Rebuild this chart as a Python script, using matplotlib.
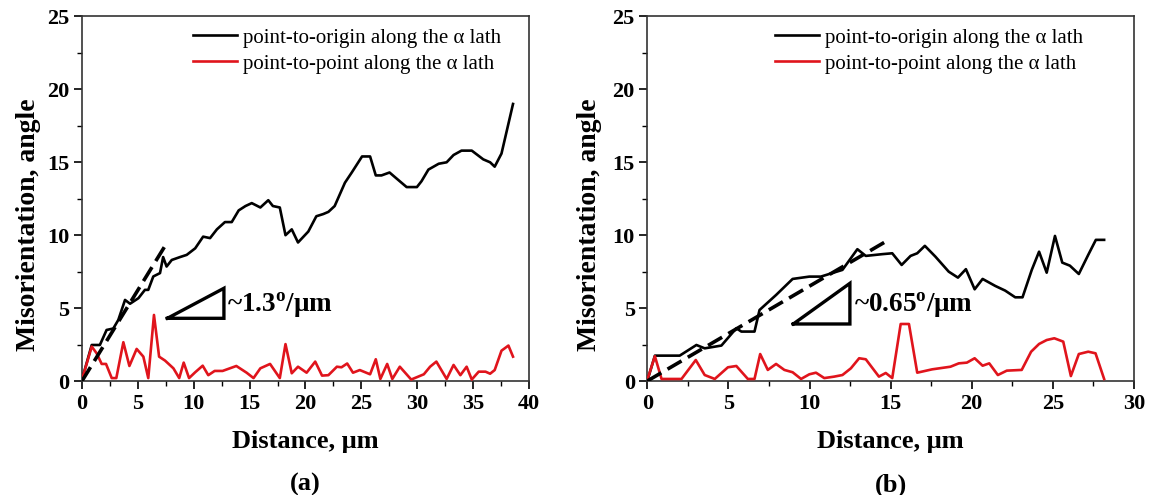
import numpy as np
import matplotlib
matplotlib.use("Agg")
import matplotlib.pyplot as plt
from matplotlib.ticker import MultipleLocator

plt.rcParams['font.family'] = ['Liberation Serif', 'DejaVu Serif']
plt.rcParams['mathtext.fontset'] = 'custom'
plt.rcParams['mathtext.rm'] = 'Liberation Serif'
plt.rcParams['mathtext.bf'] = 'Liberation Serif:bold'

# panel (a): point-to-origin misorientation
a_origin_x = [0, 0.87, 1.6, 2.2, 2.8, 3.25, 3.85, 4.3, 5.05, 5.63, 5.93, 6.38, 6.98, 7.26,
              7.57, 8.03, 8.77, 9.37, 10.13, 10.84, 11.46, 12.07, 12.79, 13.4, 14.02,
              14.63, 15.19, 15.45, 15.96, 16.67, 17.08, 17.7, 18.21, 18.77, 19.33, 20.25,
              20.97, 21.59, 22.05, 22.61, 23.53, 24.14, 25.06, 25.78, 26.29, 26.8, 27.52,
              28.13, 29.05, 29.97, 30.38, 31.0, 31.92, 32.63, 33.25, 33.96, 34.88, 35.91,
              36.52, 36.93, 37.54, 38.57]
a_origin_y = [0.1, 2.47, 2.47, 3.5, 3.6, 4.19, 5.56, 5.3, 5.68, 6.25, 6.25, 7.17, 7.4, 8.5,
              7.85, 8.3, 8.5, 8.65, 9.1, 9.9, 9.8, 10.4, 10.9, 10.9, 11.7, 12.0, 12.2, 12.1,
              11.9, 12.4, 12.0, 11.9, 10.0, 10.4, 9.5, 10.25, 11.3, 11.45, 11.6, 12.0, 13.6,
              14.3, 15.4, 15.4, 14.1, 14.1, 14.3, 13.9, 13.3, 13.3, 13.7, 14.5, 14.9, 15.0,
              15.5, 15.8, 15.8, 15.2, 15.0, 14.7, 15.6, 19.0]

# panel (a): point-to-point misorientation
a_point_x = [0, 0.87, 1.31, 1.76, 2.15, 2.66, 3.07, 3.7, 4.24, 4.89, 5.49, 5.93, 6.44, 6.9,
             7.43, 8.18, 8.7, 9.1, 9.58, 10.13, 10.8, 11.3, 11.87, 12.58, 13.81, 14.73,
             15.35, 15.96, 16.83, 17.7, 18.21, 18.77, 19.33, 20.1, 20.87, 21.48, 22.05,
             22.81, 23.22, 23.73, 24.25, 24.86, 25.78, 26.29, 26.7, 27.31, 27.77, 28.44,
             29.46, 30.59, 31.15, 31.71, 32.63, 33.25, 33.86, 34.42, 34.88, 35.5, 36.11,
             36.52, 36.93, 37.54, 38.16, 38.57]
a_point_y = [0.1, 2.36, 1.9, 1.17, 1.17, 0.2, 0.2, 2.66, 1.03, 2.2, 1.67, 0.2, 4.53, 1.67,
             1.4, 0.87, 0.2, 1.26, 0.2, 0.6, 1.05, 0.4, 0.69, 0.69, 1.03, 0.57, 0.2, 0.87,
             1.17, 0.2, 2.53, 0.53, 0.98, 0.57, 1.33, 0.37, 0.4, 0.98, 0.94, 1.2, 0.57, 0.75,
             0.46, 1.49, 0.14, 1.17, 0.14, 0.98, 0.1, 0.46, 0.98, 1.33, 0.14, 1.1, 0.4, 0.98,
             0.1, 0.64, 0.64, 0.5, 0.75, 2.08, 2.43, 1.67]

# panel (b): point-to-origin misorientation
b_origin_x = [0, 0.47, 2.0, 3.03, 3.54, 4.57, 5.49, 5.8, 6.61, 6.92, 7.94, 8.96, 9.99, 10.7,
              12.03, 12.95, 13.47, 14.49, 15.1, 15.68, 16.23, 16.64, 17.11, 17.76, 18.58,
              19.15, 19.64, 20.18, 20.67, 21.45, 22.06, 22.68, 23.13, 23.7, 24.15, 24.62,
              25.13, 25.58, 26.05, 26.6, 27.18, 27.65, 28.16]
b_origin_y = [0.0, 1.74, 1.74, 2.47, 2.24, 2.43, 3.62, 3.39, 3.39, 4.87, 5.9, 7.0, 7.16, 7.16,
              7.62, 9.04, 8.58, 8.7, 8.76, 7.96, 8.58, 8.76, 9.27, 8.53, 7.5, 7.09, 7.67,
              6.29, 7.0, 6.52, 6.2, 5.74, 5.74, 7.62, 8.87, 7.43, 9.95, 8.12, 7.91, 7.34,
              8.65, 9.68, 9.68]

# panel (b): point-to-point misorientation
b_point_x = [0, 0.47, 0.88, 2.11, 2.99, 3.54, 4.16, 4.97, 5.49, 6.2, 6.61, 6.96, 7.43, 7.94,
             8.45, 8.96, 9.48, 9.99, 10.4, 10.91, 11.52, 12.03, 12.55, 13.06, 13.47, 14.28,
             14.7, 15.1, 15.62, 16.13, 16.64, 17.56, 18.69, 19.2, 19.7, 20.18, 20.67, 21.08,
             21.61, 22.16, 23.08, 23.66, 24.15, 24.62, 25.09, 25.64, 26.11, 26.6, 27.18,
             27.63, 28.16]
b_point_y = [0.07, 1.7, 0.14, 0.14, 1.44, 0.41, 0.14, 0.94, 1.03, 0.14, 0.14, 1.85, 0.76,
             1.17, 0.76, 0.6, 0.14, 0.46, 0.57, 0.2, 0.3, 0.41, 0.87, 1.56, 1.49, 0.3, 0.55,
             0.2, 3.91, 3.91, 0.57, 0.8, 0.98, 1.21, 1.26, 1.56, 1.05, 1.21, 0.41, 0.71, 0.76,
             2.01, 2.54, 2.81, 2.93, 2.7, 0.34, 1.85, 2.01, 1.9, 0.14]

# linear fits drawn as dashed lines
a_fit_x = [0, 7.7]
a_fit_y = [0, 9.6]
b_fit_x = [0, 14.6]
b_fit_y = [0, 9.5]

slope_labels = ['~1.3$^{\\mathbf{o}}$/\u03bcm', '~0.65$^{\\mathbf{o}}$/\u03bcm']
panel_labels = ['(a)', '(b)']
legend_labels = ['point-to-origin along the \u03b1 lath', 'point-to-point along the \u03b1 lath']
x_limits = [40, 30]

# slope-triangle glyph: left corner, width, height (data units)
tri_a = (7.64, 4.3, 5.06, 2.06)
tri_b = (9.0, 3.91, 3.49, 2.79)

red = '#e0141c'

fig = plt.figure(figsize=(11.55, 4.95), dpi=100)
ax_a = fig.add_axes([0.071, 0.2303, 0.3870, 0.7364])
ax_b = fig.add_axes([0.5604, 0.2303, 0.4214, 0.7364])

panels = [
    (ax_a, a_origin_x, a_origin_y, a_point_x, a_point_y, a_fit_x, a_fit_y, tri_a, 0.248, -0.092),
    (ax_b, b_origin_x, b_origin_y, b_point_x, b_point_y, b_fit_x, b_fit_y, tri_b, 0.262, -0.093),
]

for i, (ax, ox, oy, px, py, fx, fy, tri, leg_x, ylab_x) in enumerate(panels):
    ax.plot(ox, oy, color='black', lw=1.9, label=legend_labels[0], zorder=3)
    ax.plot(px, py, color=red, lw=1.9, label=legend_labels[1], zorder=3)
    ax.plot(fx, fy, color='black', lw=2.6, ls=(0, (4.5, 2)), zorder=4)

    x0, y0, w, h = tri
    ax.plot([x0, x0 + w, x0 + w, x0], [y0, y0 + h, y0, y0], color='black', lw=2.4,
            solid_joinstyle='miter', zorder=4)
    ax.text(x0 + w + 0.25, y0 + h * 0.45, slope_labels[i], fontsize=19.5,
            fontweight='bold', va='center', ha='left')

    ax.set_xlim(0, x_limits[i])
    ax.set_ylim(0, 25)
    ax.xaxis.set_major_locator(MultipleLocator(5))
    ax.xaxis.set_minor_locator(MultipleLocator(2.5))
    ax.yaxis.set_major_locator(MultipleLocator(5))
    ax.yaxis.set_minor_locator(MultipleLocator(2.5))
    ax.tick_params(which='major', direction='out', length=6, width=1.2, labelsize=16, pad=3)
    ax.tick_params(which='minor', direction='out', length=3.5, width=1.0)
    for lab in ax.get_xticklabels() + ax.get_yticklabels():
        lab.set_fontweight('bold')
    for sp in ax.spines.values():
        sp.set_linewidth(1.2)
        sp.set_color('#333333')

    ax.set_xlabel('Distance, \u03bcm', fontsize=19, fontweight='bold', labelpad=12)
    ax.set_ylabel('Misorientation, angle', fontsize=20, fontweight='bold')
    ax.yaxis.set_label_coords(ylab_x, 0.43)
    ax.text(0.5, -0.285, panel_labels[i], transform=ax.transAxes, fontsize=19,
            fontweight='bold', ha='center', va='center')

    ax.legend(loc='upper left', bbox_to_anchor=(leg_x, 0.968), frameon=False,
              fontsize=15, handlelength=2.1, handletextpad=0.3, labelspacing=0.3,
              borderpad=0, borderaxespad=0)

fig.savefig('out.png', dpi=100)
